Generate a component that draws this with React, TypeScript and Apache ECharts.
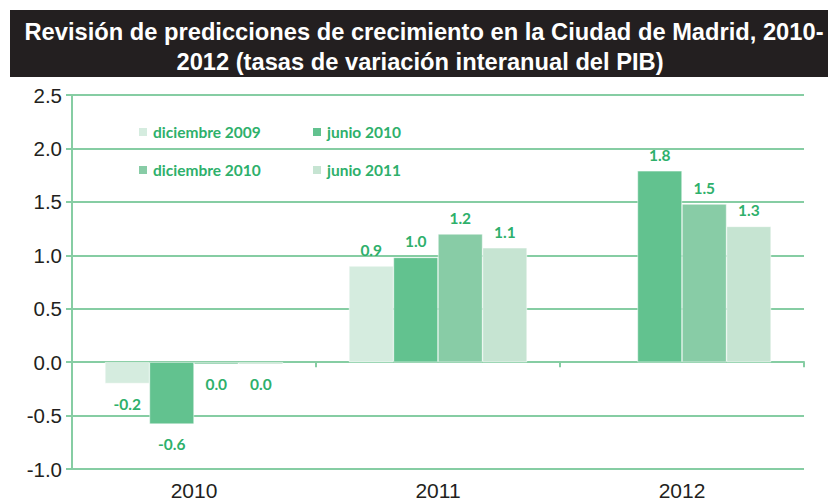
import React, { useEffect, useRef } from "react";
import * as echarts from "echarts";

const categories = ["2010", "2011", "2012"];
const seriesNames = ["diciembre 2009", "junio 2010", "diciembre 2010", "junio 2011"];
const dic2009 = [-0.2, 0.9, null];
const jun2010 = [-0.58, 0.98, 1.79];
const dic2010 = [-0.02, 1.2, 1.48];
const jun2011 = [-0.02, 1.07, 1.27];
const seriesValues = [dic2009, jun2010, dic2010, jun2011];
const seriesColors = ["#d5ecdf", "#62c28f", "#88cca6", "#c6e4d2"];
const titleLines = [
  "Revisión de predicciones de crecimiento en la Ciudad de Madrid, 2010-",
  "2012 (tasas de variación interanual del PIB)",
];

const GREEN_TEXT = "#2eb06b";
const GRID_GREEN = "#86cda3";

export default function App() {
  const ref = useRef<HTMLDivElement>(null);
  useEffect(() => {
    if (!ref.current) return;
    const chart = echarts.init(ref.current, null, { renderer: "svg" });
    const fmt = (v: number) => (Math.abs(v) < 0.05 ? "0.0" : v.toFixed(1));
    const legendText = {
      color: GREEN_TEXT,
      fontFamily: "Lato",
      fontWeight: "bold" as const,
      fontSize: 15.5,
    };
    const legendPos = [
      { left: 132, top: 119 },
      { left: 306, top: 119 },
      { left: 132, top: 157 },
      { left: 306, top: 157 },
    ];
    chart.setOption({
      animation: false,
      backgroundColor: "#ffffff",
      graphic: [
        { type: "rect", shape: { x: 10, y: 10, width: 818, height: 67 }, style: { fill: "#231f20" } },
        {
          type: "text",
          x: 424,
          y: 32,
          style: {
            text: titleLines[0],
            fill: "#ffffff",
            font: "bold 23.7px 'Liberation Sans'",
            align: "center",
            verticalAlign: "middle",
          },
        },
        {
          type: "text",
          x: 420,
          y: 62,
          style: {
            text: titleLines[1],
            fill: "#ffffff",
            font: "bold 23.7px 'Liberation Sans'",
            align: "center",
            verticalAlign: "middle",
          },
        },
      ],
      legend: seriesNames.map((name, i) => ({
        data: [name],
        left: legendPos[i].left,
        top: legendPos[i].top,
        icon: "rect",
        itemWidth: 10,
        itemHeight: 10,
        textStyle: legendText,
      })),
      grid: { left: 72, right: 24, top: 95, bottom: 34, outerBoundsMode: "none", containLabel: false },
      xAxis: {
        type: "category",
        data: categories,
        axisLine: { onZero: true, lineStyle: { color: GRID_GREEN, width: 2 } },
        axisTick: { show: true, length: 5, lineStyle: { color: GRID_GREEN, width: 2 } },
        axisLabel: {
          margin: 11,
          color: "#231f20",
          fontFamily: "Liberation Sans",
          fontSize: 21,
        },
      },
      yAxis: {
        type: "value",
        min: -1,
        max: 2.5,
        interval: 0.5,
        axisLine: { show: true, lineStyle: { color: GRID_GREEN, width: 2 } },
        axisTick: { show: true, length: 6, lineStyle: { color: GRID_GREEN, width: 2 } },
        splitLine: { lineStyle: { color: GRID_GREEN, width: 2 } },
        axisLabel: {
          formatter: (v: number) => v.toFixed(1),
          color: "#231f20",
          fontFamily: "Liberation Sans",
          fontSize: 20.5,
          margin: 10,
        },
      },
      series: seriesNames.map((name, i) => ({
        name,
        type: "bar",
        barGap: "0%",
        barCategoryGap: "27%",
        itemStyle: { color: seriesColors[i], borderColor: "#ffffff", borderWidth: 0.5 },
        data: seriesValues[i].map((v) =>
          v === null
            ? null
            : {
                value: v,
                label: {
                  position: v < 0 ? "bottom" : "top",
                  distance: v < 0 ? 12 : 8,
                },
              }
        ),
        label: {
          show: true,
          color: GREEN_TEXT,
          fontFamily: "Lato",
          fontWeight: "bold",
          fontSize: 15.5,
          formatter: (p: any) => fmt(p.value as number),
        },
      })),
    });
    return () => chart.dispose();
  }, []);
  return <div ref={ref} style={{ width: 828, height: 503, position: "absolute", left: 0, top: 0 }} />;
}
